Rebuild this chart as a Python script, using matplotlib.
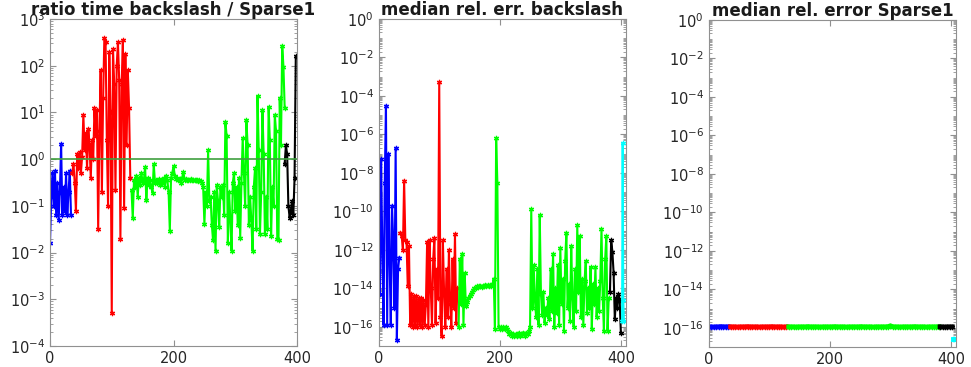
import numpy as np
import matplotlib.pyplot as plt
from matplotlib.ticker import FixedLocator, NullFormatter

plt.rcParams['font.family'] = ['DejaVu Sans']
plt.rcParams['mathtext.default'] = 'regular'

# Index positions of the matrices in each group
blue_x = np.arange(0, 36, 2)
red_x = np.arange(36, 132, 2)
green_x = np.arange(132, 382, 2)
black1_x = np.arange(380, 400, 2)
black_x = np.arange(382, 402, 2)
cyan_x = np.array([402, 403, 404, 405])

# Panel 1: ratio time backslash / Sparse1 (log10 of the ratio)
ratio_blue = [-1.8, -0.8, -0.3, -1.0, -0.25, -1.2, -0.5, -1.3, -0.7,
              0.33, -1.2, -0.6, -1.1, -0.3, -1.2, -0.7, -0.25, -1.2]
ratio_red = [-0.3, -0.1, -0.5, -1.1, 0.1, -0.2, 0.15, -0.3, 0.05, 0.95,
             0.2, 0.55, -0.2, 0.65, 0.3, -0.4, 0.4, 0.0, 1.1, 0.5,
             1.05, -1.5, 0.6, 1.9, -0.7, 1.3, 2.6, 2.5, 0.4, -1.0,
             2.3, 1.0, -3.3, 2.35, 1.6, -0.65, 2.0, 2.5, 1.7, -1.7,
             1.6, 2.55, -1.05, 2.25, 0.3, 1.9, 1.1, -0.4]
ratio_green = [-0.67, -1.27, -0.45, -0.6, -0.35, -0.8, -0.4, -0.55, -0.3, -0.5,
               -0.45, -0.17, -0.88, -0.4, -0.55, -0.45, -0.6, -0.72, -0.11, -0.5,
               -0.45, -0.5, -0.42, -0.55, -0.45, -0.5, -0.4, -0.6, -0.35, -0.45,
               -0.7, -1.53, -0.4, -0.3, -0.15, -0.35, -0.42, -0.4, -0.45, -0.42,
               -0.5, -0.4, -0.27, -0.45, -0.42, -0.45, -0.44, -0.45, -0.43, -0.45,
               -0.44, -0.45, -0.45, -0.44, -0.46, -0.45, -0.47, -0.5, -0.6, -1.38,
               -0.7, -1.0, 0.19, -0.9, -0.8, -1.4, -1.74, -0.7, -1.96, -0.56,
               -0.9, -1.46, -0.6, -0.8, -0.55, -1.2, 0.8, 0.5, -1.8, -0.7,
               -1.3, -1.96, -0.5, -0.3, -1.1, -0.6, -1.4, -0.4, -1.68, -0.5,
               0.45, -0.3, -1.0, 0.84, 0.3, -1.4, -0.8, -1.3, -1.96, -0.6,
               -0.2, -1.5, 1.35, 0.2, -1.6, -0.7, 1.05, 0.1, -1.6, -0.8,
               -1.5, 1.12, 0.4, -1.65, -0.6, -1.0, 0.95, 0.6, -1.7, -1.74,
               1.3, 0.3, 2.43, 1.98, 1.1]
ratio_black = [-0.1, 0.3, 0.1, -1.0, -1.25, -1.1, -0.9, -1.2, -0.4, 2.2]

# Panel 2: median rel. err. backslash (log10)
err_bs_blue = [-11.0, -14.3, -7.3, -12.0, -15.9, -8.5, -4.5, -15.9, -7.0,
               -12.5, -15.9, -9.7, -11.5, -15.0, -6.7, -16.7, -13.0, -12.4]
err_bs_red = [-11.1, -11.3, -12.0, -8.4, -11.5, -11.6, -13.9, -11.8, -15.9, -14.3,
              -16.0, -14.4, -15.9, -14.4, -16.0, -14.5, -15.9, -14.5, -16.0, -14.6,
              -15.9, -14.8, -11.6, -16.0, -11.5, -14.0, -15.9, -12.5, -11.4, -15.8,
              -13.0, -14.5, -3.3, -15.5, -16.5, -11.5, -14.2, -16.0, -13.0, -15.5,
              -12.0, -14.8, -16.0, -12.5, -15.0, -11.2, -15.8, -14.0]
err_bs_green = [-16.0, -12.5, -14.8, -12.2, -15.9, -13.2, -14.9, -14.7, -14.5, -14.4,
                -14.3, -14.2, -14.1, -14.0, -14.0, -13.9, -13.95, -13.9, -13.9, -13.95,
                -13.9, -13.9, -13.85, -13.9, -13.85, -13.9, -13.85, -13.9, -13.8, -13.5,
                -16.1, -6.2, -8.5, -16.0, -16.1, -16.0, -16.1, -16.0, -16.1, -16.0,
                -16.1, -16.2, -16.4, -16.3, -16.5, -16.4, -16.5, -16.4, -16.5, -16.4,
                -16.3, -16.5, -16.4, -16.3, -16.4, -16.5, -16.3, -16.4, -16.2, -16.0,
                -9.9, -15.0, -12.8, -14.6, -15.5, -13.0, -15.9, -10.2, -14.3, -15.4,
                -14.2, -15.8, -15.0, -15.4, -14.5, -15.6, -13.0, -15.2, -12.2, -16.0,
                -14.0, -15.3, -12.8, -15.9, -11.9, -14.8, -13.5, -16.2, -12.6, -11.1,
                -15.0, -13.8, -15.7, -11.8, -14.5, -16.0, -13.0, -15.2, -10.7, -14.2,
                -11.3, -15.5, -13.5, -15.9, -13.6, -12.6, -15.3, -14.0, -15.0, -12.9,
                -16.1, -13.8, -14.8, -12.9, -15.5, -14.0, -15.2, -13.6, -10.9, -14.5,
                -16.2, -12.5, -11.3, -16.2, -14.5]
err_bs_black = [-14.2, -11.5, -12.1, -13.2, -15.6, -14.5, -15.0, -14.3, -14.6, -16.3]
err_bs_cyan = [-15.7, -6.45, -14.6, -15.7]

# Panel 3: median rel. error Sparse1 (log10), sampled every 4 indices
sp_blue_x = np.arange(0, 36, 4)
sp_red_x = np.arange(36, 132, 4)
sp_green_x = np.arange(132, 382, 4)
sp_black_x = np.arange(382, 406, 4)
sp_cyan_x = np.array([404, 405])
err_sp_blue = [-15.95, -15.95, -15.96, -15.95, -15.95, -15.94, -15.95, -15.95, -15.95]
err_sp_red = [-15.95, -15.95, -15.95, -15.96, -15.95, -15.95, -15.95, -15.94,
              -15.95, -15.95, -15.95, -15.95, -15.96, -15.95, -15.95, -15.95,
              -15.95, -15.94, -15.95, -15.95, -15.95, -15.95, -15.96, -15.95]
err_sp_green = [-15.95, -15.95, -15.95, -15.96, -15.95, -15.95, -15.95, -15.95,
                -15.94, -15.95, -15.95, -15.95, -15.95, -15.96, -15.95, -15.95,
                -15.95, -15.95, -15.95, -15.94, -15.95, -15.95, -15.95, -15.95,
                -15.96, -15.95, -15.95, -15.95, -15.95, -15.95, -15.94, -15.95,
                -15.95, -15.95, -15.95, -15.96, -15.95, -15.95, -15.95, -15.95,
                -15.95, -15.94, -15.9, -15.95, -15.95, -15.95, -15.96, -15.95,
                -15.95, -15.95, -15.95, -15.95, -15.94, -15.95, -15.95, -15.95,
                -15.95, -15.96, -15.95, -15.95, -15.95, -15.95, -15.95]
err_sp_black = [-15.95, -15.95, -15.96, -15.95, -15.95, -15.95]
err_sp_cyan = [-16.6, -16.6]

colors = {'blue': '#0000ff', 'red': '#ff0000', 'green': '#00ff00',
          'black': '#000000', 'cyan': '#00ffff'}
star = (6, 2, 0)


def draw(ax, x, logv, color, lw=1.5):
    ax.semilogy(x, 10.0 ** np.array(logv), color=color, lw=lw,
                marker=star, ms=3.8, mew=0.9)


def style(ax, ylo, yhi, step, xmax, title):
    ax.set_yscale('log')
    ax.set_xlim(0, xmax)
    ax.set_ylim(10.0 ** ylo, 10.0 ** yhi)
    ax.set_xticks([0, 200, 400])
    exps = [e for e in range(yhi, ylo - 1, -step)]
    ax.set_yticks(10.0 ** np.array(exps, dtype=float))
    ax.set_yticklabels([r'$10^{%d}$' % e for e in exps])
    minors = [m * 10.0 ** e for e in range(ylo, yhi) for m in range(2, 10)]
    minors += [10.0 ** e for e in range(ylo, yhi + 1)]
    ax.yaxis.set_minor_locator(FixedLocator(minors))
    ax.yaxis.set_minor_formatter(NullFormatter())
    ax.tick_params(which='both', direction='in', top=True, right=True,
                   labelsize=10.5, colors='#909090', labelcolor='#262626')
    ax.tick_params(which='major', length=4)
    ax.tick_params(which='minor', length=2.5)
    for s in ax.spines.values():
        s.set_color('#909090')
    ax.set_title(title, fontsize=12, fontweight='bold', pad=1, color='#1a1a1a')


fig = plt.figure(figsize=(9.71, 3.67), dpi=100)
ax1 = fig.add_axes([0.0515, 0.0572, 0.2544, 0.891])
ax2 = fig.add_axes([0.390, 0.0572, 0.2544, 0.891])
ax3 = fig.add_axes([0.730, 0.0545, 0.2544, 0.891])

draw(ax1, blue_x, ratio_blue, colors['blue'])
draw(ax1, red_x, ratio_red, colors['red'])
draw(ax1, green_x, ratio_green, colors['green'])
draw(ax1, black1_x, ratio_black, colors['black'])
ax1.plot([0, 400], [1, 1], color='#3f9f3f', lw=1.2)
style(ax1, -4, 3, 1, 400, 'ratio time backslash / Sparse1')

draw(ax2, blue_x, err_bs_blue, colors['blue'])
draw(ax2, red_x, err_bs_red, colors['red'])
draw(ax2, green_x, err_bs_green, colors['green'])
draw(ax2, black_x, err_bs_black, colors['black'])
draw(ax2, cyan_x, err_bs_cyan, colors['cyan'])
style(ax2, -17, 0, 2, 408, 'median rel. err. backslash')

draw(ax3, sp_blue_x, err_sp_blue, colors['blue'], lw=3.5)
draw(ax3, sp_red_x, err_sp_red, colors['red'], lw=3.5)
draw(ax3, sp_green_x, err_sp_green, colors['green'], lw=3.5)
draw(ax3, sp_black_x, err_sp_black, colors['black'], lw=3.5)
draw(ax3, sp_cyan_x, err_sp_cyan, colors['cyan'], lw=3.5)
style(ax3, -17, 0, 2, 408, 'median rel. error Sparse1')

fig.savefig('out.png', dpi=100)
